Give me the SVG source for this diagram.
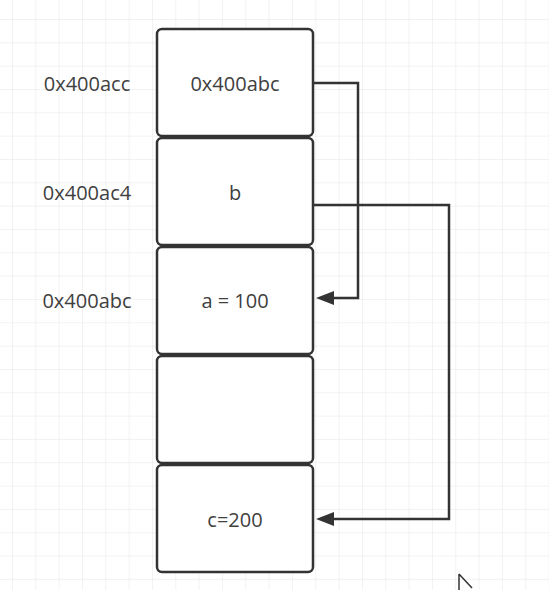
<svg xmlns="http://www.w3.org/2000/svg" width="549" height="590" viewBox="0 0 549 590">
<style>
.cell{fill:#fff;stroke:#333;stroke-width:2.5}
.lbl{font-family:"Open Sans","Liberation Sans",Arial,sans-serif;font-size:20px;fill:#404040;text-anchor:middle;dominant-baseline:central}
.conn{fill:none;stroke:#333;stroke-width:2.5}
</style>
<defs>
<pattern id="grid" x="12" y="19" width="23.33" height="23.33" patternUnits="userSpaceOnUse">
<path d="M0 0H23.33M0 0V23.33" fill="none" stroke="#e6e6e6" stroke-width="1"/>
</pattern>
</defs>
<rect width="549" height="590" fill="#fff"/>
<rect width="549" height="590" fill="url(#grid)"/>
<g id="addr-labels">
<text class="lbl" x="87" y="83">0x400acc</text>
<text class="lbl" x="87" y="192">0x400ac4</text>
<text class="lbl" x="87" y="300">0x400abc</text>
</g>
<g id="cell1"><rect class="cell" x="157" y="29" width="156" height="107" rx="5"/><text class="lbl" x="235" y="83">0x400abc</text></g>
<g id="cell2"><rect class="cell" x="157" y="138" width="156" height="107" rx="5"/><text class="lbl" x="235" y="192">b</text></g>
<g id="cell3"><rect class="cell" x="157" y="247" width="156" height="107" rx="5"/><text class="lbl" x="235" y="300">a = 100</text></g>
<g id="cell4"><rect class="cell" x="157" y="356" width="156" height="107" rx="5"/></g>
<g id="cell5"><rect class="cell" x="157" y="465" width="156" height="107" rx="5"/><text class="lbl" x="235" y="519">c=200</text></g>
<g id="connectors">
<path class="conn" d="M314 83H358V298H328"/>
<path d="M316 298L334 291V305Z" fill="#333"/>
<path class="conn" d="M314 205H449V519H328"/>
<path d="M316 519L334 512V526Z" fill="#333"/>
</g>
<path d="M459 574L459 590M459 574L472 588" fill="none" stroke="#333" stroke-width="1.5"/>
</svg>
